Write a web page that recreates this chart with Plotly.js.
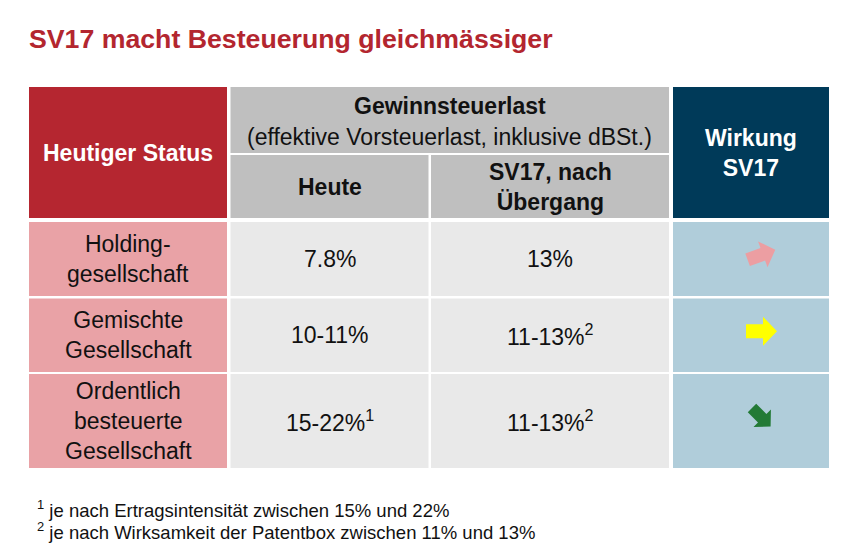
<!DOCTYPE html>
<html>
<head>
<meta charset="utf-8">
<script src="https://cdn.plot.ly/plotly-3.0.1.min.js"></script>
<style>html,body{margin:0;padding:0;background:#fff;}#chart{width:858px;height:556px;}</style>
</head>
<body>
<div id="chart"></div>
<script>
// ---- content ----
const titleText = "SV17 macht Besteuerung gleichmässiger";
const headerStatus = "Heutiger Status";
const headerGroup = "Gewinnsteuerlast";
const headerGroupSub = "(effektive Vorsteuerlast, inklusive dBSt.)";
const headerHeute = "Heute";
const headerNach = "SV17, nach<br>Übergang";
const headerWirkung = "Wirkung<br>SV17";
const rowLabels = ["Holding-<br>gesellschaft", "Gemischte<br>Gesellschaft", "Ordentlich<br>besteuerte<br>Gesellschaft"];
const heute = ["7.8%", "10-11%", "15-22%<sup>1</sup>"];
const nachUebergang = ["13%", "11-13%<sup>2</sup>", "11-13%<sup>2</sup>"];
const wirkungAngle = [-20, 0, 45];
const wirkungColor = ["#EC9EA2", "#FFFF00", "#237A36"];
const wirkungScale = [0.95, 1.0, 0.85];
const footnotes = ["<sup>1</sup> je nach Ertragsintensität zwischen 15% und 22%",
                   "<sup>2</sup> je nach Wirksamkeit der Patentbox zwischen 11% und 13%"];

// ---- layout geometry (pixel grid) ----
const W = 858, H = 556;
const colEdges = [[29, 227], [230.5, 428.5], [431, 669], [673, 829]];
const headRows = [[87, 153], [155, 218]];
const dataRows = [[222, 296], [298.5, 372], [374, 468]];
const FONT = "Liberation Sans, Arial, sans-serif";
const BODY = 23;
const C = {
  title: "#B3262F", red: "#B52630", pink: "#E9A2A6", grayHead: "#BFBFBF",
  grayCell: "#E9E9E9", navy: "#003A59", lightBlue: "#B0CDDA", text: "#111111"
};

const shapes = [];
const annotations = [];
function rect(x0, x1, y0, y1, color) {
  shapes.push({type: "rect", xref: "x", yref: "y", x0, x1, y0, y1,
    fillcolor: color, line: {width: 0}, layer: "below"});
}
function label(x, y, text, opts) {
  annotations.push(Object.assign({xref: "x", yref: "y", x, y, text, showarrow: false,
    xanchor: "center", yanchor: "middle", align: "center",
    font: {family: FONT, size: BODY, color: C.text}}, opts || {}));
}
const mid = (a) => (a[0] + a[1]) / 2;

// header cells
rect(colEdges[0][0], colEdges[0][1], headRows[0][0], headRows[1][1], C.red);
rect(colEdges[1][0], colEdges[2][1], headRows[0][0], headRows[0][1], C.grayHead);
rect(colEdges[1][0], colEdges[1][1], headRows[1][0], headRows[1][1], C.grayHead);
rect(colEdges[2][0], colEdges[2][1], headRows[1][0], headRows[1][1], C.grayHead);
rect(colEdges[3][0], colEdges[3][1], headRows[0][0], headRows[1][1], C.navy);

label(mid(colEdges[0]), mid([headRows[0][0], headRows[1][1]]), "<b>" + headerStatus + "</b>", {font: {family: FONT, size: BODY, color: "#ffffff"}});
label((colEdges[1][0] + colEdges[2][1]) / 2, 106, "<b>" + headerGroup + "</b>");
label((colEdges[1][0] + colEdges[2][1]) / 2, 137, headerGroupSub);
label(mid(colEdges[1]), mid(headRows[1]), "<b>" + headerHeute + "</b>");
label(mid(colEdges[2]), mid(headRows[1]), "<b>" + headerNach + "</b>");
label(mid(colEdges[3]), 153, "<b>" + headerWirkung + "</b>", {font: {family: FONT, size: BODY, color: "#ffffff"}});

// arrow template (pointing right, centred on 0,0)
const arrowTpl = [[-15, -7], [2, -7], [2, -14.5], [16, 0], [2, 14.5], [2, 7], [-15, 7]];
function arrowPath(cx, cy, angleDeg, s) {
  const a = angleDeg * Math.PI / 180, c = Math.cos(a), sn = Math.sin(a);
  return arrowTpl.map((p, i) => {
    const x = cx + s * (p[0] * c - p[1] * sn);
    const y = cy + s * (p[0] * sn + p[1] * c);
    return (i ? "L" : "M") + x.toFixed(2) + "," + y.toFixed(2);
  }).join("") + "Z";
}

// data rows
dataRows.forEach((r, i) => {
  rect(colEdges[0][0], colEdges[0][1], r[0], r[1], C.pink);
  rect(colEdges[1][0], colEdges[1][1], r[0], r[1], C.grayCell);
  rect(colEdges[2][0], colEdges[2][1], r[0], r[1], C.grayCell);
  rect(colEdges[3][0], colEdges[3][1], r[0], r[1], C.lightBlue);
  const cy = mid(r);
  label(mid(colEdges[0]), cy, rowLabels[i]);
  label(mid(colEdges[1]), cy, heute[i]);
  label(mid(colEdges[2]), cy, nachUebergang[i]);
  shapes.push({type: "path", xref: "x", yref: "y",
    path: arrowPath(mid(colEdges[3]) + 10, cy - 4, wirkungAngle[i], wirkungScale[i]),
    fillcolor: wirkungColor[i], line: {width: 0}, layer: "above"});
});

// title
annotations.push({xref: "x", yref: "y", x: 27, y: 39, text: "<b>" + titleText + "</b>", showarrow: false,
  xanchor: "left", yanchor: "middle", font: {family: FONT, size: 26.7, color: C.title}});

// footnotes
footnotes.forEach((t, i) => {
  annotations.push({xref: "x", yref: "y", x: 35, y: 509 + i * 21.5, text: t, showarrow: false,
    xanchor: "left", yanchor: "middle", align: "left", font: {family: FONT, size: 18.5, color: C.text}});
});

const layout = {
  width: W, height: H,
  margin: {l: 0, r: 0, t: 0, b: 0, pad: 0},
  paper_bgcolor: "#ffffff", plot_bgcolor: "#ffffff",
  showlegend: false,
  xaxis: {range: [0, W], visible: false, fixedrange: true},
  yaxis: {range: [H, 0], visible: false, fixedrange: true},
  shapes, annotations
};
Plotly.newPlot("chart", [], layout, {displayModeBar: false, staticPlot: true});
</script>
</body>
</html>
